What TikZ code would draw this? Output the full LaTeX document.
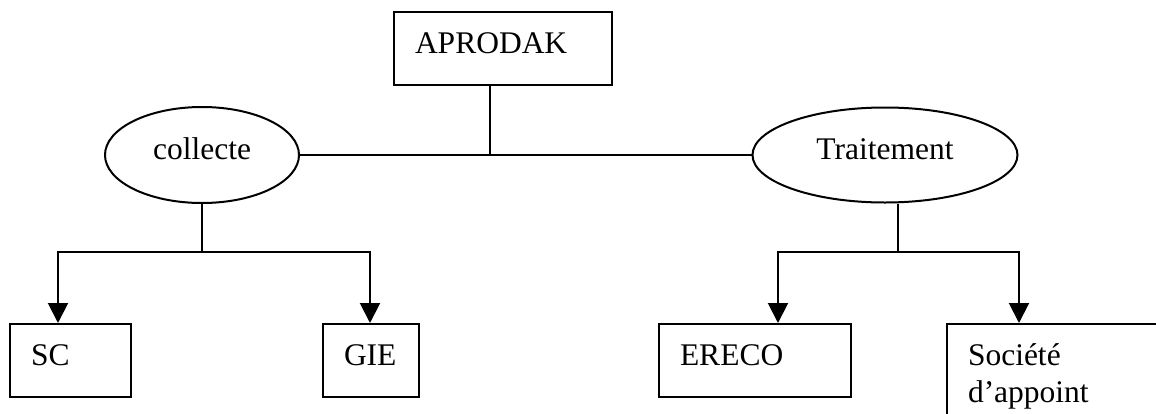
\documentclass[tikz,border=0pt]{standalone}
\usepackage{fontspec}
\setmainfont{Liberation Serif}
\usepackage{tikz}
\usetikzlibrary{shapes.geometric}
\usetikzlibrary{arrows.meta}
\tikzset{
    boxnode/.style = {rectangle, draw=black, anchor=north west, align=left, inner xsep=8.4pt, inner ysep=0pt, text height=16.4pt, text depth=12.6pt},
    ellnode/.style = {ellipse, draw=black, align=center, inner sep=0pt, text height=8pt, text depth=4.8pt},
}

\begin{document}
\begin{tikzpicture}[
	x=0.4pt, y=-0.4pt,
	line width=0.8pt,
	font=\fontsize{12.6}{14.8}\selectfont
]
\tikzset{
    edgen/.style = {-},
    edgea/.style = {-{Triangle[length=8pt,width=8pt]}},
}
\useasboundingbox (0,0) rectangle (1156,414);
\clip (0,0) rectangle (1156,414);
\node[boxnode, text width=70.4pt] at (393,11) (aprodak) {APRODAK};
\node[ellnode, minimum width=77.6pt, minimum height=38.4pt] at (202,155) (collecte) {collecte};
\node[ellnode, minimum width=106pt, minimum height=38pt] at (885,155) (traitement) {Traitement};
\node[boxnode, text width=31.6pt] at (9,323) (sc) {SC};
\node[boxnode, text width=21.6pt] at (322,323) (gie) {GIE};
\node[boxnode, text width=60pt] at (658,323) (ereco) {ERECO};
\node[boxnode, text width=70.8pt, text depth=27.6pt] at (946,323) (societe) {Société\\d’appoint};
%
\coordinate (hub) at (490,155);
\coordinate (cfork) at (202,252);
\coordinate (tfork) at (898,252);
%
\draw[edgen] (collecte) -- (traitement);
\draw[edgen] (aprodak.south -| hub) -- (hub);
%
\draw[edgen] (collecte) -- (cfork);
\draw[edgea] (cfork) -| ([xshift=19.6pt]sc.north west);
\draw[edgea] (cfork) -| ([xshift=19.2pt]gie.north west);
%
\draw[edgen] (traitement.south -| tfork) -- (tfork);
\draw[edgea] (tfork) -| ([xshift=48pt]ereco.north west);
\draw[edgea] (tfork) -| ([xshift=29.2pt]societe.north west);
\end{tikzpicture}
\end{document}
